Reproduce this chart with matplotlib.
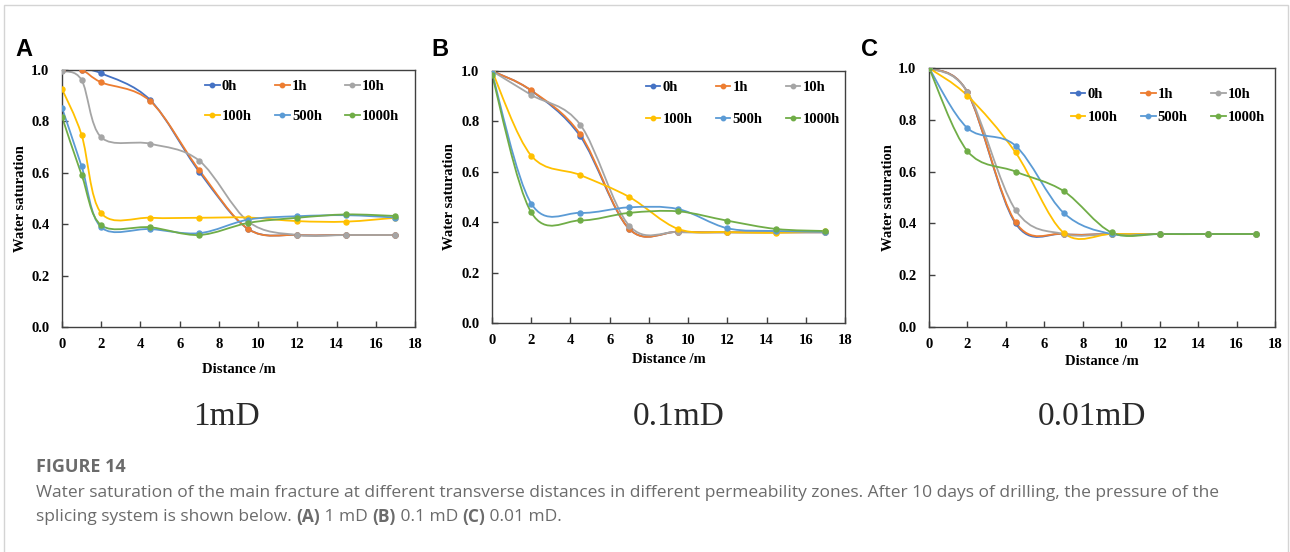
import matplotlib
matplotlib.use("Agg")
import matplotlib.pyplot as plt
from matplotlib.path import Path
from matplotlib.patches import PathPatch, Rectangle
from matplotlib.lines import Line2D

### data
labels = ["0h", "1h", "10h", "100h", "500h", "1000h"]
colors = ["#4472C4", "#ED7D31", "#A5A5A5", "#FFC000", "#5B9BD5", "#70AD47"]

# (A) 1 mD
x_a = [0, 1, 2, 4.5, 7, 9.5, 12, 14.5, 17]
a_0h = [1.0, 1.0, 0.987, 0.883, 0.604, 0.381, 0.358, 0.358, 0.358]
a_1h = [1.0, 1.0, 0.952, 0.879, 0.61, 0.381, 0.358, 0.358, 0.358]
a_10h = [0.996, 0.961, 0.738, 0.713, 0.647, 0.41, 0.358, 0.358, 0.358]
a_100h = [0.926, 0.747, 0.443, 0.425, 0.425, 0.426, 0.412, 0.41, 0.425]
a_500h = [0.853, 0.625, 0.388, 0.381, 0.365, 0.418, 0.431, 0.435, 0.426]
a_1000h = [0.818, 0.592, 0.396, 0.388, 0.358, 0.405, 0.425, 0.438, 0.432]

# (B) 0.1 mD
x_b = [0, 2, 4.5, 7, 9.5, 12, 14.5, 17]
b_0h = [1.0, 0.922, 0.741, 0.373, 0.362, 0.36, 0.36, 0.36]
b_1h = [1.0, 0.923, 0.749, 0.373, 0.362, 0.36, 0.36, 0.36]
b_10h = [1.0, 0.905, 0.787, 0.386, 0.361, 0.36, 0.36, 0.36]
b_100h = [1.0, 0.664, 0.587, 0.5, 0.373, 0.361, 0.358, 0.364]
b_500h = [0.992, 0.474, 0.437, 0.459, 0.452, 0.376, 0.365, 0.362]
b_1000h = [0.984, 0.439, 0.407, 0.437, 0.443, 0.406, 0.373, 0.365]

# (C) 0.01 mD
x_c = [0, 2, 4.5, 7, 9.5, 12, 14.5, 17]
c_0h = [1.0, 0.906, 0.40, 0.359, 0.359, 0.359, 0.359, 0.359]
c_1h = [1.0, 0.906, 0.405, 0.359, 0.359, 0.359, 0.359, 0.359]
c_10h = [1.0, 0.908, 0.452, 0.359, 0.359, 0.359, 0.359, 0.359]
c_100h = [1.0, 0.893, 0.674, 0.364, 0.359, 0.359, 0.359, 0.359]
c_500h = [1.0, 0.768, 0.70, 0.441, 0.359, 0.359, 0.359, 0.359]
c_1000h = [1.0, 0.679, 0.60, 0.525, 0.365, 0.359, 0.359, 0.359]

panels = [
    ("A", "1mD", x_a, [a_0h, a_1h, a_10h, a_100h, a_500h, a_1000h]),
    ("B", "0.1mD", x_b, [b_0h, b_1h, b_10h, b_100h, b_500h, b_1000h]),
    ("C", "0.01mD", x_c, [c_0h, c_1h, c_10h, c_100h, c_500h, c_1000h]),
]

### layout (pixels of the 1290x552 image)
W, H = 1290, 552
ax_px = [(62, 415, 70, 327), (492, 845, 71, 323), (929, 1275, 68, 327)]
leg_anchor = [(0.405, 0.96), (0.435, 0.962), (0.41, 0.925)]
leg_spacing = [1.15, 1.3, 0.7]
ylab_x = [-0.118, -0.12, -0.118]
xlab_y = [-0.167, -0.143, -0.135]
letter_x = [15, 431, 861]
title_x = [226, 679, 1092]

serif = "Liberation Serif"


def smooth_path(x, y):
    # excel style smoothed line: cubic bezier through every point
    n = len(x)
    verts = [(x[0], y[0])]
    codes = [Path.MOVETO]
    for i in range(n - 1):
        x0, y0 = (x[i - 1], y[i - 1]) if i > 0 else (x[i], y[i])
        x3, y3 = (x[i + 2], y[i + 2]) if i + 2 < n else (x[i + 1], y[i + 1])
        c1 = (x[i] + (x[i + 1] - x0) / 6, y[i] + (y[i + 1] - y0) / 6)
        c2 = (x[i + 1] - (x3 - x[i]) / 6, y[i + 1] - (y3 - y[i]) / 6)
        verts += [c1, c2, (x[i + 1], y[i + 1])]
        codes += [Path.CURVE4] * 3
    return Path(verts, codes)


fig = plt.figure(figsize=(W / 100, H / 100), dpi=100)
fig.patch.set_facecolor("white")

# light frame around the whole figure card
fig.add_artist(Rectangle((4 / W, -0.05), 1284 / W, 1.05 - 5 / H, transform=fig.transFigure,
                         fill=False, edgecolor="#d4d4d4", linewidth=1.0))

# legend is filled row by row in the original
order = [0, 3, 1, 4, 2, 5]

for k, (letter, title, xs, series) in enumerate(panels):
    l, r, t, b = ax_px[k]
    ax = fig.add_axes([l / W, 1 - b / H, (r - l) / W, (b - t) / H])
    for ys, c in zip(series, colors):
        ax.add_patch(PathPatch(smooth_path(xs, ys), fill=False, edgecolor=c, lw=1.3, zorder=2))
        ax.plot(xs, ys, "o", color=c, ms=3.6, zorder=3)

    ax.set_xlim(0, 18)
    ax.set_ylim(0, 1.0)
    ax.set_xticks(range(0, 19, 2))
    ax.set_yticks([0, 0.2, 0.4, 0.6, 0.8, 1.0])
    ax.set_yticklabels(["0.0", "0.2", "0.4", "0.6", "0.8", "1.0"])
    ax.tick_params(direction="in", length=4, width=1, color="#404040")
    ax.tick_params(axis="x", pad=8)
    ax.tick_params(axis="y", pad=9)
    for lab in ax.get_xticklabels() + ax.get_yticklabels():
        lab.set_fontfamily(serif)
        lab.set_fontweight("bold")
        lab.set_fontsize(10.5)
    for s in ax.spines.values():
        s.set_color("#404040")
        s.set_linewidth(1.0)

    ax.set_xlabel("Distance /m", fontfamily=serif, fontweight="bold", fontsize=10.5, va="center")
    ax.set_ylabel("Water saturation", fontfamily=serif, fontweight="bold", fontsize=10.5, va="center")
    ax.xaxis.set_label_coords(0.5, xlab_y[k])
    ax.yaxis.set_label_coords(ylab_x[k], 0.5)

    handles = [Line2D([], [], color=colors[i], lw=1.3, marker="o", ms=3.2) for i in order]
    ax.legend(handles, [labels[i] for i in order], ncol=3, loc="upper left",
              bbox_to_anchor=leg_anchor[k], frameon=False, borderpad=0, borderaxespad=0,
              handlelength=1.0, handletextpad=0.15, columnspacing=1.6,
              labelspacing=leg_spacing[k],
              prop={"family": serif, "weight": "bold", "size": 10.5})

    fig.text(letter_x[k] / W, 1 - 49 / H, letter, fontfamily="Liberation Sans",
             fontweight="bold", fontsize=17, va="center", ha="left")
    fig.text(title_x[k] / W, 1 - 417 / H, title, fontfamily=serif, fontsize=24,
             va="center", ha="center", color="#2a2a2a")

### caption
cap_color = "#6b6b6b"
cap_size = 12.5
cap_x = 36
fig.text(cap_x / W, 1 - 467 / H, "FIGURE 14", fontfamily="Open Sans", fontweight="bold",
         fontsize=13, color=cap_color, va="center")
fig.text(cap_x / W, 1 - 493 / H,
         "Water saturation of the main fracture at different transverse distances in different "
         "permeability zones. After 10 days of drilling, the pressure of the",
         fontfamily="Open Sans", fontsize=cap_size, color=cap_color, va="center")

pieces = [("splicing system is shown below. ", "normal"), ("(A)", "bold"), (" 1 mD ", "normal"),
          ("(B)", "bold"), (" 0.1 mD ", "normal"), ("(C)", "bold"), (" 0.01 mD.", "normal")]
renderer = fig.canvas.get_renderer()
xpos = float(cap_x)
for txt, wt in pieces:
    tt = fig.text(xpos / W, 1 - 517 / H, txt, fontfamily="Open Sans", fontweight=wt,
                  fontsize=cap_size, color=cap_color, va="center")
    xpos = tt.get_window_extent(renderer).x1

fig.savefig("out.png", dpi=100, facecolor="white")
